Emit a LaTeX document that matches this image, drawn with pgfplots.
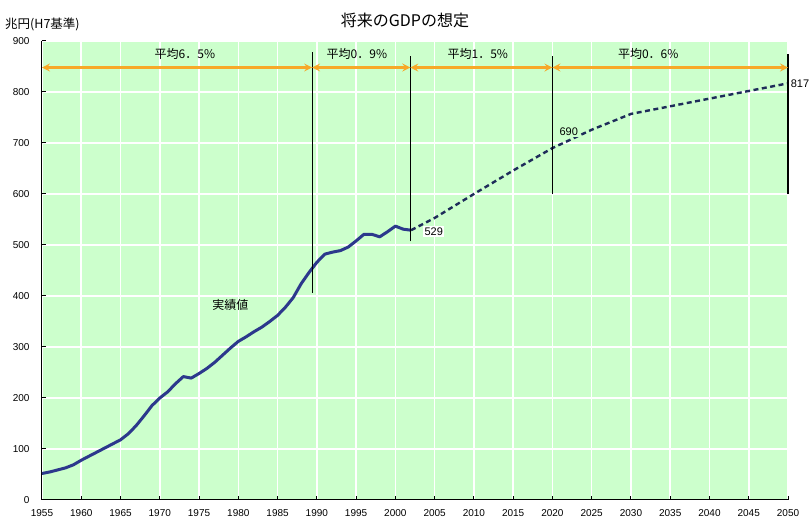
\documentclass[border=0pt]{standalone}
\usepackage{pgfplots}
\pgfplotsset{compat=1.18}
\usepackage{pgfplotstable}
\usepackage{fontspec}
\setmainfont{Liberation Sans}
\newfontfamily\jp{Noto Sans CJK JP}
\usetikzlibrary{arrows.meta}

\definecolor{bg}{RGB}{204,255,204}
\definecolor{gdp}{RGB}{44,56,140}
\definecolor{proj}{RGB}{30,44,90}
\definecolor{arr}{RGB}{247,168,40}

% real GDP (trillion yen, 1995 prices)
\pgfplotstableread{
year gdp
1955 52
1956 55
1957 59
1958 63
1959 69
1960 78
1961 86
1962 94
1963 102
1964 110
1965 118
1966 130
1967 146
1968 165
1969 185
1970 200
1971 212
1972 228
1973 242
1974 239
1975 248
1976 258
1977 270
1978 284
1979 298
1980 311
1981 320
1982 330
1983 339
1984 350
1985 362
1986 378
1987 397
1988 424
1989 446
1990 466
1991 482
1992 486
1993 489
1994 496
1995 508
1996 521
1997 521
1998 516
1999 526
2000 537
2001 531
2002 529
}\actual

% projection
\pgfplotstableread{
year gdp
2002 529
2005 553
2010 600
2015 646
2020 690
2025 726
2030 757
2035 772
2040 787
2045 802
2050 817
}\projected

\tikzset{growth/.style={arr, line width=2.2pt,
  {Stealth[length=8pt,width=8pt,inset=3pt]}-{Stealth[length=8pt,width=8pt,inset=3pt]}}}

\begin{document}
\begin{tikzpicture}
\useasboundingbox (-42pt,-21pt) rectangle (769pt,500pt);
\begin{axis}[
  scale only axis, width=746pt, height=459pt,
  xmin=1955, xmax=2050, ymin=0, ymax=900,
  xtick={1955,1960,...,2050}, ytick={0,100,...,900},
  axis x line*=bottom, axis y line*=left,
  axis line style={black, line width=1pt, -},
  tick align=inside, major tick length=4pt,
  tick style={black, line width=1pt},
  grid=major, grid style={white, line width=1.6pt},
  axis background/.style={fill=bg},
  ticklabel style={font=\fontsize{10}{12}\selectfont},
  /pgf/number format/assume math mode=true,
  xticklabel style={/pgf/number format/1000 sep={}, yshift=-6pt},
  yticklabel style={xshift=-9pt},
  clip=false,
]
% actual and projected series
\addplot[gdp, line width=3pt, line join=round] table[x=year,y=gdp]{\actual};
\addplot[proj, line width=2.4pt, dash pattern=on 5pt off 3.5pt] table[x=year,y=gdp]{\projected};

% period dividers
\addplot[black, line width=1.1pt] coordinates {(1989.4,406) (1989.4,878)};
\addplot[black, line width=1.1pt] coordinates {(2001.9,507) (2001.9,870)};
\addplot[black, line width=1.1pt] coordinates {(2020,600) (2020,870)};
\addplot[black, line width=1.1pt] coordinates {(2050,600) (2050,875)};

% average growth arrows
\addplot[growth] coordinates {(1955,848) (1989.4,848)};
\addplot[growth] coordinates {(1989.4,848) (2001.9,848)};
\addplot[growth] coordinates {(2001.9,848) (2020,848)};
\addplot[growth] coordinates {(2020,848) (2050,848)};

\node[font=\jp\fontsize{12}{14}\selectfont] at (axis cs:1973.2,874) {平均6．5\%};
\node[font=\jp\fontsize{12}{14}\selectfont] at (axis cs:1995.1,874) {平均0．9\%};
\node[font=\jp\fontsize{12}{14}\selectfont] at (axis cs:2010.5,874) {平均1．5\%};
\node[font=\jp\fontsize{12}{14}\selectfont] at (axis cs:2032.2,874) {平均0．6\%};

\node[font=\jp\fontsize{12}{14}\selectfont] at (axis cs:1979.0,382) {実績値};

% value labels
\node[anchor=west, fill=white, inner sep=1.5pt, font=\fontsize{11}{13}\selectfont] at (axis cs:2003.5,527) {529};
\node[anchor=west, fill=bg, inner sep=1.5pt, font=\fontsize{11}{13}\selectfont] at (axis cs:2020.7,723) {690};
\node[anchor=west, inner sep=1pt, font=\fontsize{11}{13}\selectfont] at (axis cs:2050.2,816) {817};
\end{axis}
\node[font=\jp\fontsize{16}{19}\selectfont] at (363pt,480pt) {将来のGDPの想定};
\node[anchor=west, inner sep=0pt, font=\jp\fontsize{12.5}{15}\selectfont] at (-37pt,476pt) {兆円(H7基準)};
\end{tikzpicture}
\end{document}
